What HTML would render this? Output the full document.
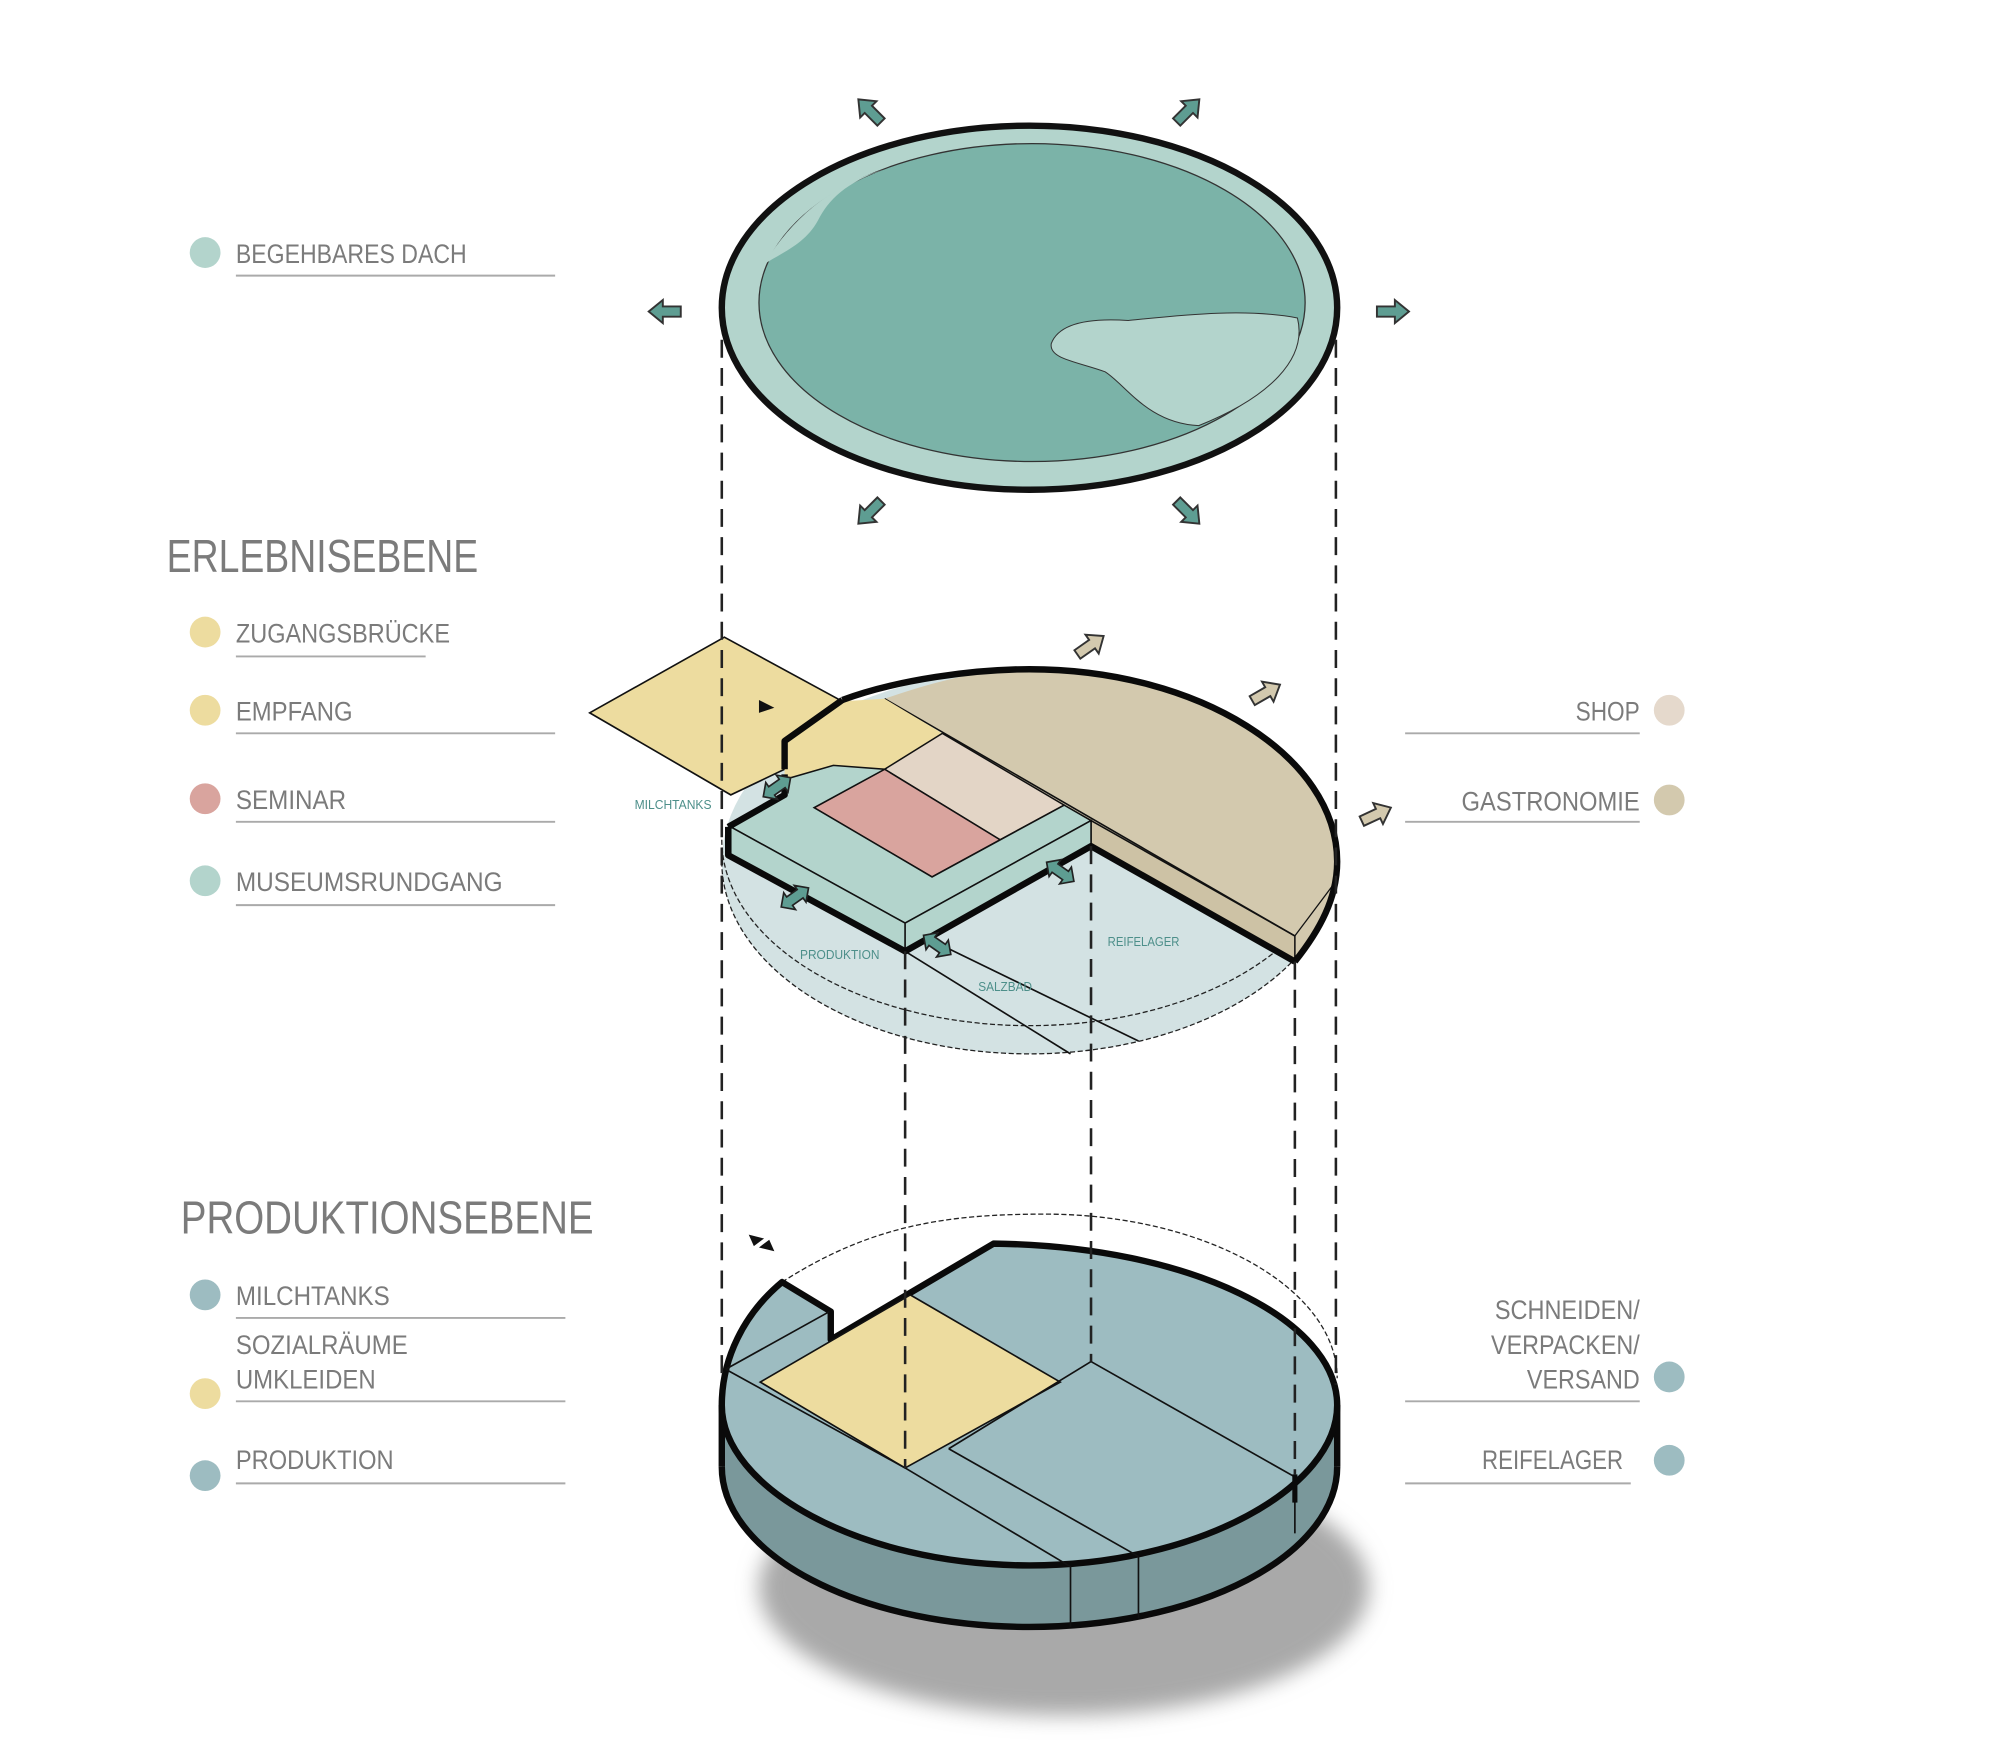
<!DOCTYPE html>
<html><head><meta charset="utf-8"><style>html,body{margin:0;padding:0;background:#fff;}svg{display:block}</style></head>
<body>
<svg width="2000" height="1759" viewBox="0 0 1560 1372" preserveAspectRatio="none" xmlns="http://www.w3.org/2000/svg">
<defs>
<filter id="bl" x="-30%" y="-30%" width="160%" height="160%"><feGaussianBlur stdDeviation="8"/></filter>
<path id="ar" d="M-13,-4 L1,-4 L1,-9 L12,0 L1,9 L1,4 L-13,4 Z"/>
<path id="da" d="M-13,0 L-5,-8 L-5,-4 L5,-4 L5,-8 L13,0 L5,8 L5,4 L-5,4 L-5,8 Z"/>
</defs>
<rect width="1560" height="1372" fill="#fff"/>

<!-- legend left -->
<g font-family="Liberation Sans, sans-serif" fill="#7b7b7b">
<circle cx="160" cy="197" r="12" fill="#b3d4cc"/>
<text x="184" y="205" font-size="21" textLength="180" lengthAdjust="spacingAndGlyphs">BEGEHBARES DACH</text>
<line x1="184" y1="215" x2="433" y2="215" stroke="#aaa" stroke-width="1.5"/>
<text x="130" y="446" font-size="36" textLength="243" lengthAdjust="spacingAndGlyphs">ERLEBNISEBENE</text>
<circle cx="160" cy="493" r="12" fill="#eddc9f"/>
<text x="184" y="501" font-size="21" textLength="167" lengthAdjust="spacingAndGlyphs">ZUGANGSBRÜCKE</text>
<line x1="184" y1="512" x2="332" y2="512" stroke="#aaa" stroke-width="1.5"/>
<circle cx="160" cy="554" r="12" fill="#eddc9f"/>
<text x="184" y="562" font-size="21" textLength="91" lengthAdjust="spacingAndGlyphs">EMPFANG</text>
<line x1="184" y1="572" x2="433" y2="572" stroke="#aaa" stroke-width="1.5"/>
<circle cx="160" cy="623" r="12" fill="#d9a49e"/>
<text x="184" y="631" font-size="21" textLength="86" lengthAdjust="spacingAndGlyphs">SEMINAR</text>
<line x1="184" y1="641" x2="433" y2="641" stroke="#aaa" stroke-width="1.5"/>
<circle cx="160" cy="687" r="12" fill="#b3d4cc"/>
<text x="184" y="695" font-size="21" textLength="208" lengthAdjust="spacingAndGlyphs">MUSEUMSRUNDGANG</text>
<line x1="184" y1="706" x2="433" y2="706" stroke="#aaa" stroke-width="1.5"/>
<text x="141" y="962" font-size="36" textLength="322" lengthAdjust="spacingAndGlyphs">PRODUKTIONSEBENE</text>
<circle cx="160" cy="1010" r="12" fill="#9dbcc1"/>
<text x="184" y="1018" font-size="21" textLength="120" lengthAdjust="spacingAndGlyphs">MILCHTANKS</text>
<line x1="184" y1="1028" x2="441" y2="1028" stroke="#aaa" stroke-width="1.5"/>
<text x="184" y="1056" font-size="21" textLength="134" lengthAdjust="spacingAndGlyphs">SOZIALRÄUME</text>
<text x="184" y="1083" font-size="21" textLength="109" lengthAdjust="spacingAndGlyphs">UMKLEIDEN</text>
<circle cx="160" cy="1087" r="12" fill="#eddc9f"/>
<line x1="184" y1="1093" x2="441" y2="1093" stroke="#aaa" stroke-width="1.5"/>
<circle cx="160" cy="1151" r="12" fill="#9dbcc1"/>
<text x="184" y="1146" font-size="21" textLength="123" lengthAdjust="spacingAndGlyphs">PRODUKTION</text>
<line x1="184" y1="1157" x2="441" y2="1157" stroke="#aaa" stroke-width="1.5"/>
<g text-anchor="end">
<text x="1279" y="562" font-size="21" textLength="50" lengthAdjust="spacingAndGlyphs">SHOP</text>
<text x="1279" y="632" font-size="21" textLength="139" lengthAdjust="spacingAndGlyphs">GASTRONOMIE</text>
<text x="1279" y="1029" font-size="21" textLength="113" lengthAdjust="spacingAndGlyphs">SCHNEIDEN/</text>
<text x="1279" y="1056" font-size="21" textLength="116" lengthAdjust="spacingAndGlyphs">VERPACKEN/</text>
<text x="1279" y="1083" font-size="21" textLength="88" lengthAdjust="spacingAndGlyphs">VERSAND</text>
<text x="1266" y="1146" font-size="21" textLength="110" lengthAdjust="spacingAndGlyphs">REIFELAGER</text>
</g>
<circle cx="1302" cy="554" r="12" fill="#e5d9cc"/>
<circle cx="1302" cy="624" r="12" fill="#d3c9ae"/>
<circle cx="1302" cy="1074" r="12" fill="#9dbcc1"/>
<circle cx="1302" cy="1139" r="12" fill="#9dbcc1"/>
<line x1="1096" y1="572" x2="1279" y2="572" stroke="#aaa" stroke-width="1.5"/>
<line x1="1096" y1="641" x2="1279" y2="641" stroke="#aaa" stroke-width="1.5"/>
<line x1="1096" y1="1093" x2="1279" y2="1093" stroke="#aaa" stroke-width="1.5"/>
<line x1="1096" y1="1157" x2="1272" y2="1157" stroke="#aaa" stroke-width="1.5"/>
</g>

<!-- shadow -->
<ellipse cx="830" cy="1238" rx="238" ry="100" fill="#a9a9a9" filter="url(#bl)"/>

<!-- ROOF -->
<ellipse cx="803" cy="240" rx="240" ry="142" fill="#b3d4cc" stroke="#111" stroke-width="5"/>
<ellipse cx="805" cy="236" rx="213" ry="124" fill="#7bb3a8" stroke="#333" stroke-width="1"/>
<path d="M596,206 C612,196 628,190 638,172 C646,156 660,142 690,132 Q630,150 596,206 Z" fill="#b3d4cc"/>
<path d="M820,268 C826,252 850,248 880,250 C920,246 970,240 1012,248 C1020,280 990,310 935,332 C895,330 878,300 862,290 C840,282 818,280 820,268 Z" fill="#b3d4cc" stroke="#333" stroke-width="0.8"/>
<g fill="#5e9d92" stroke="#333" stroke-width="1.5">
<use href="#ar" transform="translate(678,86) rotate(-135)"/>
<use href="#ar" transform="translate(927,86) rotate(-45)"/>
<use href="#ar" transform="translate(518,243) rotate(180)"/>
<use href="#ar" transform="translate(1087,243)"/>
<use href="#ar" transform="translate(678,400) rotate(135)"/>
<use href="#ar" transform="translate(927,400) rotate(45)"/>
</g>

<!-- MIDDLE LEVEL -->
<ellipse cx="803" cy="672" rx="240" ry="150" fill="#d3e2e3"/>
<path d="M563,672 A240,150 0 0 0 1043,672" fill="none" stroke="#222" stroke-width="1" stroke-dasharray="4 2"/>
<path d="M563,655 A240,145 0 0 0 1043,655" fill="none" stroke="#222" stroke-width="1" stroke-dasharray="4 2"/>
<g stroke="#111" stroke-width="1.3" fill="none">
<line x1="706" y1="742" x2="835" y2="822"/>
<line x1="740" y1="740" x2="888" y2="812"/>
</g>
<path d="M690,545 C740,528 770,522 803,522 C935,522 1043,590 1043,672 C1043,700 1030,725 1010,750 L851,660 L851,640 Z" fill="#d3c9ae"/>
<path d="M851,640 L1010,730 L1010,750 L851,660 Z" fill="#cdc2a5" stroke="#111" stroke-width="1.2"/>
<line x1="690" y1="545" x2="1010" y2="730" stroke="#111" stroke-width="1.2"/>
<line x1="1010" y1="730" x2="1040" y2="690" stroke="#111" stroke-width="1"/>
<!-- bridge -->
<path d="M460,556 L565,497 L657,547 L612,578 L612,600 L570,620 Z" fill="#eddc9f" stroke="#111" stroke-width="1.3"/>
<!-- empfang -->
<path d="M612,578 L657,547 L690,545 L735,572 L690,600 L650,597 L612,608 Z" fill="#eddc9f"/>
<path d="M735,572 L830,628 L780,655 L690,600 Z" fill="#e3d5c6" stroke="#111" stroke-width="1.2"/>
<path d="M690,600 L780,655 L727,684 L635,630 Z" fill="#d9a49e" stroke="#111" stroke-width="1.2"/>
<!-- museum L -->
<path d="M570,645 L612,621 L612,608 L650,597 L690,600 L635,630 L727,684 L830,628 L851,640 L706,720 Z" fill="#b3d4cc" stroke="#111" stroke-width="1.2"/>
<path d="M570,645 L706,720 L706,742 L570,667 Z" fill="#b3d4cc" stroke="#111" stroke-width="1.2"/>
<path d="M706,720 L851,640 L851,660 L706,742 Z" fill="#b3d4cc" stroke="#111" stroke-width="1.2"/>
<g stroke="#0a0a0a" stroke-width="5" fill="none" stroke-linejoin="round">
<path d="M657,546 C700,530 760,522 803,522 C935,522 1043,590 1043,672 C1043,700 1030,725 1010,750"/>
<path d="M612,600 L612,578 L657,546"/>
<path d="M568,645 L568,667 L706,742 L851,660 L1010,750"/>
<path d="M568,645 L612,620 L612,604"/>
</g>
<path d="M592,546 L604,552 L592,556 Z" fill="#111"/>
<g fill="#5e9d92" stroke="#222" stroke-width="1.3">
<use href="#da" transform="translate(606,614) rotate(-35)"/>
<use href="#da" transform="translate(620,700) rotate(-35)"/>
<use href="#da" transform="translate(827,680) rotate(35)"/>
<use href="#da" transform="translate(731,737) rotate(35)"/>
</g>
<g fill="#d3c9ae" stroke="#333" stroke-width="1.5">
<use href="#ar" transform="translate(851,503) rotate(-35)"/>
<use href="#ar" transform="translate(988,540) rotate(-30)"/>
<use href="#ar" transform="translate(1074,635) rotate(-25)"/>
</g>
<g font-family="Liberation Sans, sans-serif" fill="#4d8f8a" font-size="10">
<text x="495" y="631" textLength="60" lengthAdjust="spacingAndGlyphs">MILCHTANKS</text>
<text x="624" y="748" textLength="62" lengthAdjust="spacingAndGlyphs">PRODUKTION</text>
<text x="763" y="773" textLength="42" lengthAdjust="spacingAndGlyphs">SALZBAD</text>
<text x="864" y="738" textLength="56" lengthAdjust="spacingAndGlyphs">REIFELAGER</text>
</g>

<!-- BOTTOM LEVEL -->
<path d="M610,1000 C680,955 740,947 815,947 C940,947 1043,1005 1043,1075" fill="none" stroke="#222" stroke-width="1" stroke-dasharray="4 2"/>
<path d="M563,1096 L563,1144 A240,125 0 0 0 1043,1144 L1043,1096 Z" fill="#7a989b"/>
<path d="M563,1144 A240,125 0 0 0 1043,1144" fill="none" stroke="#0a0a0a" stroke-width="5"/>
<path d="M563,1096 L563,1144 M1043,1096 L1043,1144" stroke="#0a0a0a" stroke-width="5"/>
<path d="M775,970 C930,972 1043,1030 1043,1096 C1043,1160 935,1221 803,1221 C670,1221 563,1160 563,1096 C563,1060 580,1025 610,1000 L648,1023 L648,1045 Z" fill="#9dbcc1" stroke="#0a0a0a" stroke-width="5" stroke-linejoin="round"/>
<path d="M593,1078 L710,1010 L827,1078 L706,1145 Z" fill="#eddc9f" stroke="#111" stroke-width="1.3"/>
<g stroke="#111" stroke-width="1.3" fill="none">
<line x1="566" y1="1068" x2="647" y2="1023"/>
<line x1="566" y1="1068" x2="706" y2="1145"/>
<line x1="706" y1="1145" x2="835" y2="1222"/>
<line x1="740" y1="1130" x2="888" y2="1214"/>
<line x1="851" y1="1062" x2="1010" y2="1152"/>
<line x1="851" y1="1062" x2="740" y2="1130"/>
<line x1="835" y1="1222" x2="835" y2="1269"/>
<line x1="888" y1="1214" x2="888" y2="1262"/>
<line x1="1010" y1="1152" x2="1010" y2="1196"/>
</g>
<path d="M1010,1150 L1010,1172" stroke="#0a0a0a" stroke-width="4"/>
<path d="M584,963 L596,966 L588,972 Z M604,976 L592,973 L600,967 Z" fill="#111"/>

<!-- dashed verticals (on top) -->
<g stroke="#222" stroke-width="2" stroke-dasharray="14 8" fill="none">
<line x1="563" y1="265" x2="563" y2="1075"/>
<line x1="1042" y1="265" x2="1042" y2="1080"/>
<line x1="706" y1="742" x2="706" y2="1145"/>
<line x1="851" y1="660" x2="851" y2="1062"/>
<line x1="1010" y1="750" x2="1010" y2="1150"/>
</g>
</svg>
</body></html>
